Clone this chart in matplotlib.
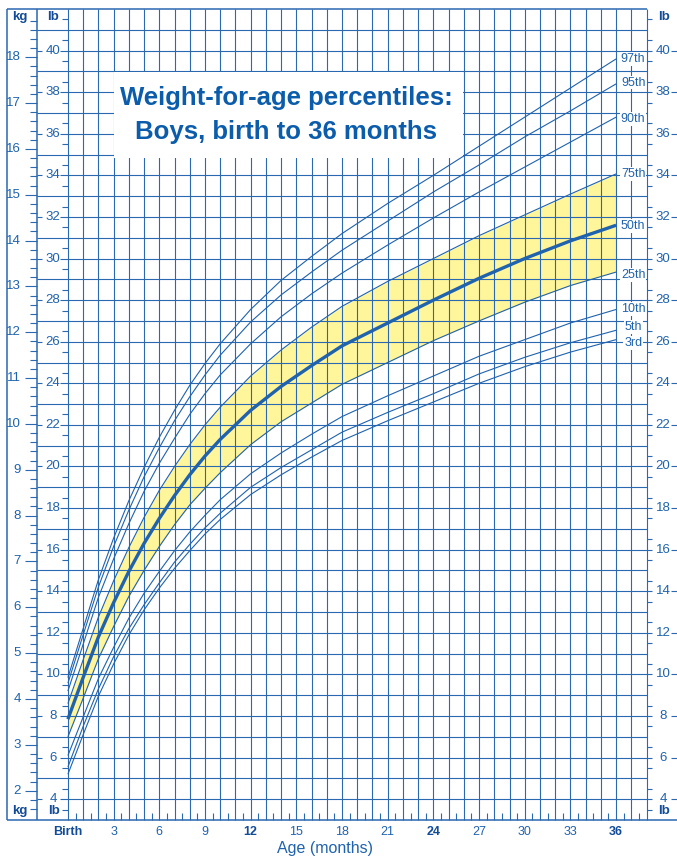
import numpy as np
import matplotlib.pyplot as plt
from matplotlib.patches import Rectangle

# ages in months and weight percentiles in lb
ages = [0, 1, 2, 3, 4, 5, 6, 7, 8, 9, 10, 12, 14, 16, 18, 21, 24, 27, 30, 33, 36]
p3 = [5.2, 7.1, 8.95, 10.5, 11.9, 13.1, 14.15, 15.1, 15.95, 16.75, 17.45, 18.65,
      19.6, 20.45, 21.25, 22.2, 23.1, 24.0, 24.8, 25.5, 26.1]
p5 = [5.55, 7.5, 9.3, 10.85, 12.2, 13.35, 14.4, 15.4, 16.25, 17.05, 17.75, 19.0,
      19.95, 20.8, 21.65, 22.6, 23.5, 24.45, 25.25, 25.95, 26.55]
p10 = [6.1, 7.95, 9.8, 11.3, 12.7, 13.9, 14.95, 15.95, 16.85, 17.65, 18.4, 19.65,
       20.65, 21.55, 22.4, 23.4, 24.35, 25.3, 26.1, 26.9, 27.55]
p25 = [7.0, 8.85, 10.75, 12.3, 13.75, 15.0, 16.15, 17.2, 18.15, 18.95, 19.7, 21.05,
       22.15, 23.05, 23.95, 25.0, 26.05, 27.0, 27.9, 28.7, 29.35]
p50 = [7.85, 9.85, 11.8, 13.45, 14.95, 16.3, 17.5, 18.6, 19.6, 20.5, 21.3, 22.7,
       23.85, 24.85, 25.8, 26.9, 28.0, 29.05, 30.0, 30.85, 31.6]
p75 = [8.6, 10.7, 12.75, 14.5, 16.1, 17.55, 18.85, 20.0, 21.05, 22.0, 22.85, 24.35,
       25.6, 26.7, 27.7, 28.9, 30.0, 31.1, 32.1, 33.1, 34.07]
p90 = [9.2, 11.45, 13.7, 15.55, 17.25, 18.8, 20.15, 21.35, 22.5, 23.5, 24.4, 25.9,
       27.2, 28.3, 29.3, 30.65, 31.95, 33.2, 34.4, 35.6, 36.8]
p95 = [9.58, 11.9, 14.2, 16.15, 17.9, 19.5, 20.9, 22.2, 23.35, 24.4, 25.35, 26.95,
       28.25, 29.35, 30.4, 31.8, 33.2, 34.5, 35.85, 37.1, 38.4]
p97 = [9.85, 12.2, 14.55, 16.55, 18.35, 19.95, 21.4, 22.7, 23.9, 24.95, 25.9, 27.55,
       28.95, 30.1, 31.2, 32.65, 34.0, 35.4, 36.8, 38.2, 39.6]

curves = [p3, p5, p10, p25, p50, p75, p90, p95, p97]
curve_names = ['3rd', '5th', '10th', '25th', '50th', '75th', '90th', '95th', '97th']
# label heights (lb) at the right end, nudged apart where curves crowd
label_y = [25.95, 26.71, 27.57, 29.21, 31.58, 34.07, 36.71, 38.46, 39.58]

month_labels = ['Birth', '3', '6', '9', '12', '15', '18', '21', '24', '27', '30', '33', '36']
bold_months = ['Birth', '12', '24', '36']

BLUE = '#1f62ae'
GRID = '#2a68b0'
NAVY = '#124b98'
TITLE = '#0b5cab'
YELLOW = '#fff59b'

plt.rcParams['font.family'] = ['Liberation Sans', 'DejaVu Sans']

fig = plt.figure(figsize=(6.77, 8.57), dpi=100)
ax = fig.add_axes([7 / 677, 37 / 857, 670 / 677, 811 / 857])
ax.set_xlim(-4, 40)
ax.set_ylim(3, 42)
ax.axis('off')

def seg(x, y, lw=0.8, color=GRID, z=1):
    ax.plot(x, y, color=color, lw=lw, zorder=z, clip_on=False,
            solid_capstyle='butt')

# grid: one line per month, one per lb
for m in range(0, 39):
    seg([m, m], [3, 42])
for lb in range(4, 42):
    if lb % 2:
        seg([-2, 38], [lb, lb])
    else:
        seg([-0.5, 38.35], [lb, lb])
        seg([-2, -1.7], [lb, lb])
        seg([39.6, 40], [lb, lb])
        ax.text(-0.98, lb, str(lb), ha='center', va='center', fontsize=9.5,
                color=BLUE, zorder=5)
        ax.text(39.08, lb, str(lb), ha='center', va='center', fontsize=9.5,
                color=BLUE, zorder=5)
for lb in np.arange(3.5, 42, 1):
    seg([-0.42, 0], [lb, lb])
    seg([38, 38.35], [lb, lb])

# half month ticks along the bottom
for m in np.arange(0.5, 38, 1):
    seg([m, m], [3, 3.34])

# kg scale on the far left
for k in np.arange(1.6, 18.81, 0.2):
    y = k * 2.20462
    if abs(k - round(k)) < 1e-6:
        seg([-2.82, -2], [y, y])
        ax.text(-3.08, y, str(int(round(k))), ha='right', va='center',
                fontsize=9.5, color=BLUE)
    else:
        seg([-2.49, -2], [y, y])

# frame
seg([-4, -4], [3, 42], lw=1.1)
seg([-2, -2], [3, 42], lw=1.1)
seg([-4, 38], [42, 42], lw=1.1)
seg([-4, 40], [3, 3], lw=1.1)

for x, y, s in [(-3.14, 41.62, 'kg'), (-0.95, 41.62, 'lb'), (39.15, 41.62, 'lb'),
                (-3.14, 3.43, 'kg'), (-0.9, 3.43, 'lb'), (39.15, 3.43, 'lb')]:
    ax.text(x, y, s, ha='center', va='center', fontsize=9.5, fontweight='bold',
            color=NAVY, zorder=5)

# month labels
for i, lab in enumerate(month_labels):
    bold = lab in bold_months
    ax.text(i * 3, 2.42, lab, ha='center', va='center', fontsize=9,
            fontweight='bold' if bold else 'normal',
            color=NAVY if bold else BLUE, clip_on=False)
ax.text(16.9, 1.62, 'Age (months)', ha='center', va='center', fontsize=11.5,
        color=BLUE, clip_on=False)

# shaded 25th-75th band and the percentile curves
ax.fill_between(ages, p25, p75, color=YELLOW, lw=0, zorder=0.5)
for vals, name, ly in zip(curves, curve_names, label_y):
    ax.plot(ages, vals, color=BLUE, lw=2.4 if name == '50th' else 0.8,
            zorder=3, solid_capstyle='butt')
    ax.text(37.12, ly, name, ha='center', va='center', fontsize=9, color=BLUE,
            zorder=5, bbox=dict(fc='white', ec='none', pad=0.6))

# title box
ax.add_patch(Rectangle((3.05, 34.85), 22.9, 4.1, fc='white', ec='none', zorder=2))
ax.text(14.35, 37.7, 'Weight-for-age percentiles:', ha='center', va='center',
        fontsize=18.5, fontweight='bold', color=TITLE, zorder=4)
ax.text(14.35, 36.1, 'Boys, birth to 36 months', ha='center', va='center',
        fontsize=18.5, fontweight='bold', color=TITLE, zorder=4)

fig.savefig('out.png', dpi=100)
